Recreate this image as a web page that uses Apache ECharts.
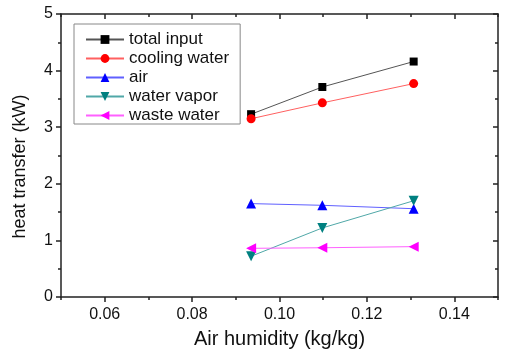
<!DOCTYPE html>
<html>
<head>
<meta charset="utf-8">
<script src="https://cdn.jsdelivr.net/npm/echarts@6/dist/echarts.min.js"></script>
<style>
  html, body { margin: 0; padding: 0; background: #fff; }
  #chart { width: 506px; height: 354px; }
</style>
</head>
<body>
<div id="chart"></div>
<script>
// Air humidity (kg/kg) at each operating point
const humidity = [0.0935, 0.1098, 0.1307];

// Heat transfer (kW) per stream
const totalInput   = [3.23, 3.71, 4.16];
const coolingWater = [3.15, 3.43, 3.77];
const air          = [1.65, 1.62, 1.56];
const waterVapor   = [0.72, 1.22, 1.70];
const wasteWater   = [0.86, 0.87, 0.89];

// Axis tick positions
const xMajorTicks = [0.06, 0.08, 0.10, 0.12, 0.14];
const xMinorTicks = [0.05, 0.07, 0.09, 0.11, 0.13, 0.15];

const FONT = 'Liberation Sans, Arial, sans-serif';
const AXIS_COLOR = '#222';

const pairs = vals => humidity.map((h, i) => [h, vals[i]]);

function lineSeries(name, vals, color, lineColor, symbol, rotate, size) {
  return {
    name, type: 'line', xAxisIndex: 0, yAxisIndex: 0,
    data: pairs(vals),
    symbol, symbolRotate: rotate, symbolSize: size,
    itemStyle: { color },
    lineStyle: { color: lineColor, width: 1 },
    emphasis: { disabled: true },
    animation: false
  };
}

const baseX = {
  type: 'value', min: 0.05, max: 0.15,
  splitLine: { show: false }
};
const baseY = {
  type: 'value', min: 0, max: 5, interval: 1,
  splitLine: { show: false }
};

const chart = echarts.init(document.getElementById('chart'), null, { renderer: 'canvas' });
chart.setOption({
  animation: false,
  backgroundColor: '#fff',
  grid: { left: 61, right: 8, top: 14, bottom: 55, containLabel: false },
  legend: {
    orient: 'vertical',
    left: 74, top: 24,
    padding: [7, 11, 0, 11],
    itemWidth: 38, itemHeight: 11, itemGap: 2,
    borderColor: '#888', borderWidth: 1,
    textStyle: { fontFamily: FONT, fontSize: 17, color: '#111' },
    data: ['total input', 'cooling water', 'air', 'water vapor', 'waste water']
  },
  xAxis: [
    Object.assign({}, baseX, {
      position: 'bottom',
      axisLine: { show: true, lineStyle: { color: AXIS_COLOR, width: 1.5 } },
      axisTick: { show: true, customValues: xMajorTicks, length: 5, lineStyle: { color: AXIS_COLOR, width: 1.5 } },
      axisLabel: {
        customValues: xMajorTicks, margin: 10,
        formatter: v => v.toFixed(2),
        fontFamily: FONT, fontSize: 16, color: '#111'
      },
      name: 'Air humidity (kg/kg)', nameLocation: 'middle', nameGap: 32,
      nameTextStyle: { fontFamily: FONT, fontSize: 20, color: '#111' }
    }),
    Object.assign({}, baseX, {
      position: 'bottom',
      axisLine: { show: false },
      axisTick: { show: true, customValues: xMinorTicks, length: 3, lineStyle: { color: AXIS_COLOR, width: 1.5 } },
      axisLabel: { show: false }
    }),
    Object.assign({}, baseX, {
      position: 'top',
      axisLine: { show: true, lineStyle: { color: AXIS_COLOR, width: 1.5 } },
      axisTick: { show: true, inside: true, customValues: xMajorTicks, length: 5, lineStyle: { color: AXIS_COLOR, width: 1.5 } },
      axisLabel: { show: false }
    }),
    Object.assign({}, baseX, {
      position: 'top',
      axisLine: { show: false },
      axisTick: { show: true, inside: true, customValues: xMinorTicks, length: 3, lineStyle: { color: AXIS_COLOR, width: 1.5 } },
      axisLabel: { show: false }
    })
  ],
  yAxis: [
    Object.assign({}, baseY, {
      position: 'left',
      axisLine: { show: true, lineStyle: { color: AXIS_COLOR, width: 1.5 } },
      axisTick: { show: true, length: 5, lineStyle: { color: AXIS_COLOR, width: 1.5 } },
      minorTick: { show: true, splitNumber: 2, length: 3, lineStyle: { color: AXIS_COLOR, width: 1.5 } },
      minorSplitLine: { show: false },
      axisLabel: { margin: 8, fontFamily: FONT, fontSize: 16, color: '#111' },
      name: 'heat transfer (kW)', nameLocation: 'middle', nameGap: 32,
      nameTextStyle: { fontFamily: FONT, fontSize: 18, color: '#111', padding: [0, 22, 0, 0] }
    }),
    Object.assign({}, baseY, {
      position: 'right',
      axisLine: { show: true, lineStyle: { color: AXIS_COLOR, width: 1.5 } },
      axisTick: { show: true, inside: true, length: 5, lineStyle: { color: AXIS_COLOR, width: 1.5 } },
      minorTick: { show: true, splitNumber: 2, length: 3, lineStyle: { color: AXIS_COLOR, width: 1.5 } },
      minorSplitLine: { show: false },
      axisLabel: { show: false }
    })
  ],
  series: [
    lineSeries('total input',   totalInput,   '#000000', '#555555', 'rect',     0,   8),
    lineSeries('cooling water', coolingWater, '#ff0000', '#ff6060', 'circle',   0,   9),
    lineSeries('air',           air,          '#0000ff', '#6060ff', 'triangle', 0,   10),
    lineSeries('water vapor',   waterVapor,   '#008080', '#50a8a8', 'triangle', 180, 10),
    lineSeries('waste water',   wasteWater,   '#ff00ff', '#ff60ff', 'triangle', 90,  10)
  ]
});
</script>
</body>
</html>
